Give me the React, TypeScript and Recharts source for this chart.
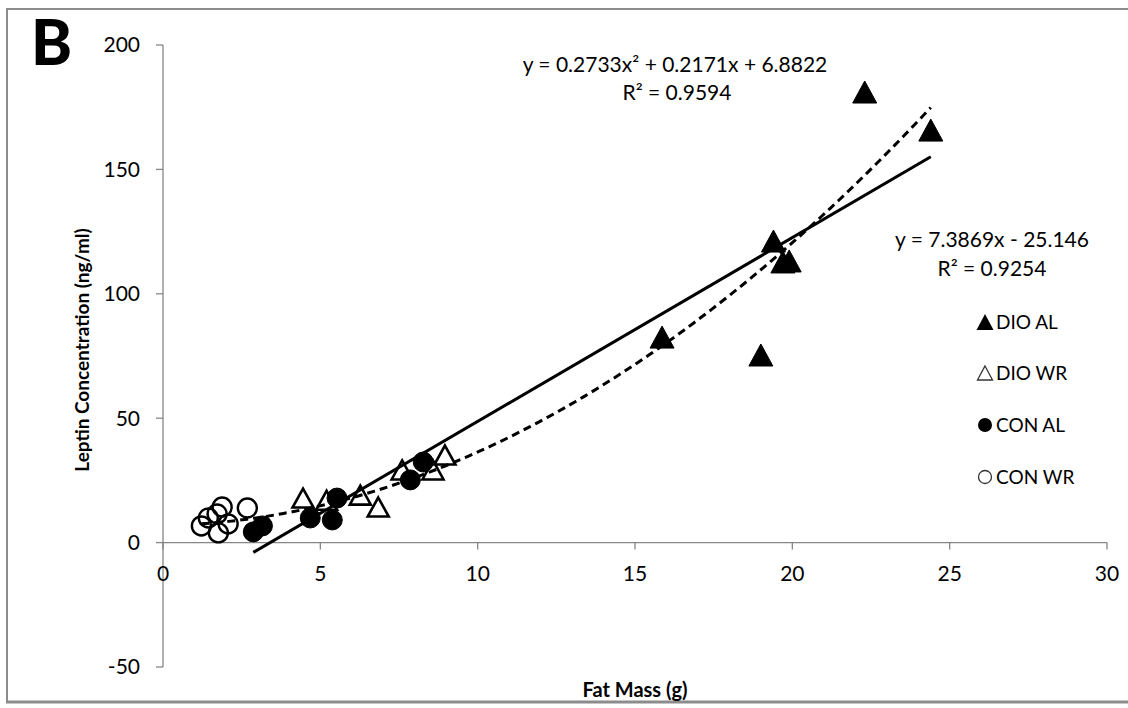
import React from 'react';
import { ScatterChart, Scatter, XAxis, YAxis, ReferenceLine, ReferenceDot } from 'recharts';

// ---- data ----
const seriesNames = ['DIO AL', 'DIO WR', 'CON AL', 'CON WR'];

const dioAlX = [22.3, 24.4, 19.4, 19.7, 19.9, 15.86, 19.0];
const dioAlY = [181.1, 165.8, 121.2, 112.8, 113.2, 82.6, 75.4];

const dioWrX = [4.45, 5.2, 6.27, 6.84, 7.6, 8.58, 8.96];
const dioWrY = [17.9, 17.0, 19.1, 14.3, 29.2, 29.2, 35.2];

const conAlX = [2.87, 3.16, 4.68, 5.38, 5.53, 7.86, 8.27];
const conAlY = [4.3, 6.7, 9.9, 9.1, 17.9, 25.2, 32.4];

const conWrX = [1.22, 1.44, 1.72, 1.88, 1.76, 2.07, 2.68];
const conWrY = [6.7, 9.9, 11.5, 14.3, 3.9, 7.5, 13.9];

const xTicks = [0, 5, 10, 15, 20, 25, 30];
const yTicks = [-50, 0, 50, 100, 150, 200];

// trendlines (coefficients as printed on the chart)
const polyCoef = [0.2733, 0.2171, 6.8822];
const polyRange = [1.22, 24.4];
const linCoef = [7.3869, -25.146];
const linRange = [2.87, 24.4];

const polyLabel = ['y = 0.2733x² + 0.2171x + 6.8822', 'R² = 0.9594'];
const linLabel = ['y = 7.3869x - 25.146', 'R² = 0.9254'];

const toPts = (xs: number[], ys: number[]) => xs.map((x, i) => ({ x, y: ys[i] }));
const dioAl = toPts(dioAlX, dioAlY);
const dioWr = toPts(dioWrX, dioWrY);
const conAl = toPts(conAlX, conAlY);
const conWr = toPts(conWrX, conWrY);

const polyPts: { x: number; y: number }[] = [];
{
  const steps = 80;
  for (let i = 0; i <= steps; i++) {
    const x = polyRange[0] + ((polyRange[1] - polyRange[0]) * i) / steps;
    polyPts.push({ x, y: polyCoef[0] * x * x + polyCoef[1] * x + polyCoef[2] });
  }
}
const linPts = linRange.map((x) => ({ x, y: linCoef[0] * x + linCoef[1] }));

// ---- styles ----
const FONT = 'Lato, "Open Sans", sans-serif';
const AXIS = '#868686';

const TRI_W = 24;
const TRI_H = 22;
const CIRC_R = 9.5;

const FilledTri = (p: any) => {
  const { cx, cy } = p;
  if (cx == null || cy == null) return <g />;
  return (
    <polygon
      points={`${cx},${cy - TRI_H / 2} ${cx + TRI_W / 2},${cy + TRI_H / 2} ${cx - TRI_W / 2},${cy + TRI_H / 2}`}
      fill="#000"
      stroke="#000"
      strokeWidth={1}
    />
  );
};
const OpenTri = (p: any) => {
  const { cx, cy } = p;
  if (cx == null || cy == null) return <g />;
  const w = TRI_W - 3;
  const h = TRI_H - 3;
  return (
    <polygon
      points={`${cx},${cy - h / 2} ${cx + w / 2},${cy + h / 2} ${cx - w / 2},${cy + h / 2}`}
      fill="none"
      stroke="#000"
      strokeWidth={2.6}
      strokeLinejoin="miter"
    />
  );
};
const FilledCirc = (p: any) => {
  const { cx, cy } = p;
  if (cx == null || cy == null) return <g />;
  return <circle cx={cx} cy={cy} r={CIRC_R + 0.5} fill="#000" stroke="#000" strokeWidth={1} />;
};
const OpenCirc = (p: any) => {
  const { cx, cy } = p;
  if (cx == null || cy == null) return <g />;
  return <circle cx={cx} cy={cy} r={CIRC_R} fill="none" stroke="#000" strokeWidth={2.4} />;
};
const NoShape = () => <g />;

const makeXTick = (t: number) => (p: any) => {
  const { cx, cy } = p;
  if (cx == null || cy == null) return <g />;
  return (
    <g>
      <line x1={cx} y1={cy} x2={cx} y2={cy + 7} stroke={AXIS} strokeWidth={1.3} />
      <text x={cx} y={cy + 38} textAnchor="middle" fontFamily={FONT} fontSize={21} fill="#000">
        {t}
      </text>
    </g>
  );
};

const legendRowsY = [322, 373, 425, 477];

export default function App() {
  return (
    <div style={{ position: 'absolute', left: 0, top: 0, width: 1128, height: 708, background: '#fff' }}>
      <ScatterChart width={1128} height={708} margin={{ top: 45, right: 21, bottom: 41, left: 0 }}>
        <XAxis type="number" dataKey="x" domain={[0, 30]} ticks={xTicks} hide />
        <YAxis
          type="number"
          dataKey="y"
          domain={[-50, 200]}
          ticks={yTicks}
          interval={0}
          width={163}
          axisLine={{ stroke: AXIS, strokeWidth: 1.3 }}
          tickLine={{ stroke: AXIS, strokeWidth: 1.3 }}
          tickSize={7}
          tickMargin={16}
          tick={{ fill: '#000', fontSize: 21, fontFamily: FONT }}
        />
        <ReferenceLine y={0} stroke={AXIS} strokeWidth={1.3} />
        {xTicks.map((t) => (
          <ReferenceDot key={'xt' + t} x={t} y={0} r={0} shape={makeXTick(t)} />
        ))}
        <Scatter name={seriesNames[0]} data={dioAl} shape={FilledTri} isAnimationActive={false} />
        <Scatter name={seriesNames[1]} data={dioWr} shape={OpenTri} isAnimationActive={false} />
        <Scatter name={seriesNames[2]} data={conAl} shape={FilledCirc} isAnimationActive={false} />
        <Scatter name={seriesNames[3]} data={conWr} shape={OpenCirc} isAnimationActive={false} />
        <Scatter
          name="poly"
          data={polyPts}
          shape={NoShape}
          line={{ stroke: '#000', strokeWidth: 3, strokeDasharray: '8 5' }}
          lineType="joint"
          isAnimationActive={false}
        />
        <Scatter
          name="linear"
          data={linPts}
          shape={NoShape}
          line={{ stroke: '#000', strokeWidth: 3 }}
          lineType="joint"
          isAnimationActive={false}
        />
      </ScatterChart>
      <svg
        width={1128}
        height={708}
        style={{ position: 'absolute', left: 0, top: 0, pointerEvents: 'none' }}
      >
        {/* frame */}
        <line x1={7} y1={9} x2={1128} y2={9} stroke="#8c8c8c" strokeWidth={2} />
        <line x1={7} y1={8} x2={7} y2={703} stroke="#8c8c8c" strokeWidth={2} />
        <line x1={6} y1={702} x2={1128} y2={702} stroke="#8c8c8c" strokeWidth={3} />
        {/* panel letter */}
        <text x={31} y={65} fontFamily={FONT} fontWeight={900} fontSize={62} fill="#000">
          B
        </text>
        {/* axis titles */}
        <text x={635} y={697} textAnchor="middle" fontFamily={FONT} fontWeight={700} fontSize={20} fill="#000">
          Fat Mass (g)
        </text>
        <text
          x={0}
          y={0}
          transform="translate(89,350) rotate(-90)"
          textAnchor="middle"
          fontFamily={FONT}
          fontWeight={700}
          fontSize={19}
          fill="#000"
        >
          Leptin Concentration (ng/ml)
        </text>
        {/* trendline equations */}
        <text x={675} y={72} textAnchor="middle" fontFamily={FONT} fontSize={21} fill="#000">
          {polyLabel[0]}
        </text>
        <text x={677} y={100} textAnchor="middle" fontFamily={FONT} fontSize={21} fill="#000">
          {polyLabel[1]}
        </text>
        <text x={992} y={247} textAnchor="middle" fontFamily={FONT} fontSize={21} fill="#000">
          {linLabel[0]}
        </text>
        <text x={992} y={276} textAnchor="middle" fontFamily={FONT} fontSize={21} fill="#000">
          {linLabel[1]}
        </text>
        {/* legend */}
        {seriesNames.map((name, i) => {
          const cy = legendRowsY[i];
          const cx = 985;
          let marker;
          if (i === 0)
            marker = <polygon points={`${cx},${cy - 8} ${cx + 8.5},${cy + 8} ${cx - 8.5},${cy + 8}`} fill="#000" />;
          else if (i === 1)
            marker = (
              <polygon
                points={`${cx},${cy - 7} ${cx + 7.5},${cy + 7} ${cx - 7.5},${cy + 7}`}
                fill="none"
                stroke="#333"
                strokeWidth={1.3}
              />
            );
          else if (i === 2) marker = <circle cx={cx} cy={cy} r={7} fill="#000" />;
          else marker = <circle cx={cx} cy={cy} r={6.5} fill="none" stroke="#333" strokeWidth={1.3} />;
          return (
            <g key={name}>
              {marker}
              <text x={996} y={cy + 7} fontFamily={FONT} fontSize={19} fill="#000">
                {name}
              </text>
            </g>
          );
        })}
      </svg>
    </div>
  );
}
